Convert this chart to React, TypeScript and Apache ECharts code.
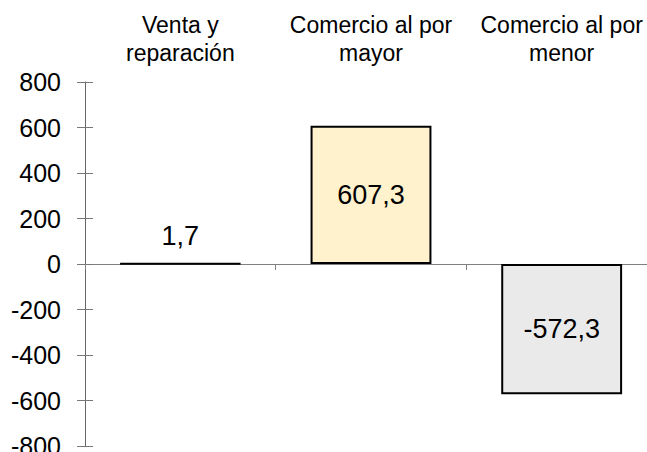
import React, { useEffect, useRef } from "react";
import * as echarts from "echarts";

const categories = ["Venta y\nreparación", "Comercio al por\nmayor", "Comercio al por\nmenor"];
const values = [1.7, 607.3, -572.3];
const barColors = ["#C8C8C8", "#FFF2CC", "#EAEAEA"];
const yMin = -800;
const yMax = 800;
const yInterval = 200;

export default function App() {
  const ref = useRef<HTMLDivElement>(null);
  useEffect(() => {
    if (!ref.current) return;
    const chart = echarts.init(ref.current, null, { renderer: "svg" });
    const font = "'Liberation Sans', Arial, sans-serif";
    const fmt = (v: number) => v.toFixed(1).replace(".", ",");
    chart.setOption({
      animation: false,
      grid: { left: 85, right: -10, top: 82, bottom: 6, containLabel: false, outerBoundsMode: "none" },
      xAxis: [
        {
          type: "category",
          data: categories,
          position: "bottom",
          axisLine: { show: true, onZero: true, lineStyle: { color: "#808080", width: 1 } },
          axisTick: { show: true, length: 6, inside: false, lineStyle: { color: "#808080" } },
          axisLabel: { show: false },
          splitLine: { show: false },
        },
        {
          type: "category",
          data: categories,
          position: "top",
          axisLine: { show: false, onZero: false },
          axisTick: { show: false },
          axisLabel: {
            show: true,
            margin: 15,
            color: "#000",
            fontFamily: font,
            fontSize: 23,
            lineHeight: 28,
            interval: 0,
          },
          splitLine: { show: false },
        },
      ],
      yAxis: [
        {
          type: "value",
          position: "left",
          min: yMin,
          max: yMax,
          interval: yInterval,
          axisLine: { show: true, onZero: false, lineStyle: { color: "#666", width: 1 } },
          axisTick: { show: true, length: 8, inside: false, lineStyle: { color: "#777" } },
          axisLabel: { color: "#000", fontFamily: font, fontSize: 25, margin: 24 },
          splitLine: { show: false },
        },
        {
          type: "value",
          position: "left",
          offset: 0,
          min: yMin,
          max: yMax,
          interval: yInterval,
          axisLine: { show: false, onZero: false },
          axisTick: { show: true, length: 8, inside: true, lineStyle: { color: "#777" } },
          axisLabel: { show: false },
          splitLine: { show: false },
        },
      ],
      series: [
        {
          type: "bar",
          xAxisIndex: 0,
          yAxisIndex: 0,
          barWidth: "63.4%",
          data: values.map((v, i) => ({
            value: v,
            itemStyle: { color: barColors[i], borderColor: "#000", borderWidth: 2 },
            label: {
              show: true,
              position: i === 0 ? "top" : "inside",
              distance: 13,
              formatter: () => fmt(v),
              color: "#000",
              fontFamily: font,
              fontSize: 27,
            },
          })),
        },
      ],
    });
    return () => chart.dispose();
  }, []);
  return <div ref={ref} style={{ width: 647, height: 452, position: "absolute", left: 0, top: 0 }} />;
}
